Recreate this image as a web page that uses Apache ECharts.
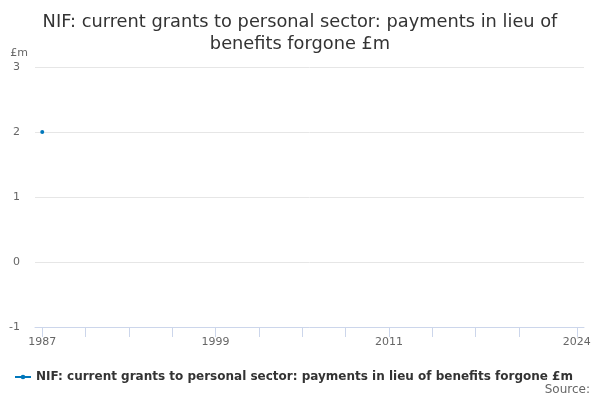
<!DOCTYPE html>
<html>
<head>
<meta charset="utf-8">
<script src="https://cdn.jsdelivr.net/npm/echarts@6/dist/echarts.min.js"></script>
<style>html,body{margin:0;padding:0;background:#fff}#c{width:600px;height:400px}</style>
</head>
<body>
<div id="c"></div>
<script>
var years = ["1987","1988","1989","1990","1991","1992","1993","1994","1995","1996","1997","1998","1999","2000","2001","2002","2003","2004","2005","2006","2007","2008","2009","2010","2011","2012","2013","2014","2015","2016","2017","2018","2019","2020","2021","2022","2023","2024"];
var values = [2,null,null,null,null,null,null,null,null,null,null,null,null,null,null,null,null,null,null,null,null,null,null,null,null,null,null,null,null,null,null,null,null,null,null,null,null,null];
var yTicks = {min:-1, max:3, interval:1};
var seriesName = "NIF: current grants to personal sector: payments in lieu of benefits forgone £m";
var titleText = "NIF: current grants to personal sector: payments in lieu of\nbenefits forgone £m";
var labelYears = ["1987","1999","2011","2024"];
var tickYears = ["1987","1990","1993","1996","1999","2002","2005","2008","2011","2014","2017","2020","2024"];

var chart = echarts.init(document.getElementById('c'), null, {renderer:'canvas'});
var tickIdx = tickYears.map(function(y){return years.indexOf(y);});
chart.setOption({
  animation:false,
  textStyle:{fontFamily:'DejaVu Sans'},
  title:{text:titleText, left:'center', top:6, textStyle:{fontSize:17.8, fontWeight:'normal', color:'#333', lineHeight:22, fontFamily:'DejaVu Sans'}},
  grid:{left:35, right:16, top:67, bottom:73},
  legend:{left:10, top:366, itemWidth:16, itemHeight:8, itemGap:0,
    textStyle:{fontSize:12, fontWeight:'bold', color:'#333', fontFamily:'DejaVu Sans'},
    data:[{name:seriesName, icon:'path://M0,3 L16,3 L16,5 L0,5 Z M8,1.7 A2.3,2.3 0 1 1 7.99,1.7 Z'}]},
  graphic:[{type:'text', right:10, top:384, style:{text:'Source:', fill:'#666', fontSize:12, fontFamily:'DejaVu Sans'}}],
  xAxis:{type:'category', data:years, boundaryGap:true,
    axisLine:{onZero:false, lineStyle:{color:'#ccd6eb'}},
    axisTick:{show:true, alignWithLabel:true, length:10, lineStyle:{color:'#ccd6eb'}, customValues:tickIdx},
    axisLabel:{color:'#666', fontSize:11, margin:10, interval:function(i,v){return labelYears.indexOf(v)>=0;}},
    splitLine:{show:false}},
  yAxis:{type:'value', min:yTicks.min, max:yTicks.max, interval:yTicks.interval,
    name:'£m', nameLocation:'end', nameGap:8,
    nameTextStyle:{color:'#666', fontSize:11, align:'right', padding:[0,7,0,0]},
    axisLine:{show:false}, axisTick:{show:false},
    axisLabel:{color:'#666', fontSize:11, margin:15},
    splitLine:{lineStyle:{color:'#e6e6e6'}}},
  series:[{name:seriesName, type:'line', data:values, connectNulls:false,
    symbol:'circle', symbolSize:4, showSymbol:true,
    itemStyle:{color:'#0077bb'}, lineStyle:{color:'#0077bb', width:2}}]
});
</script>
</body>
</html>
